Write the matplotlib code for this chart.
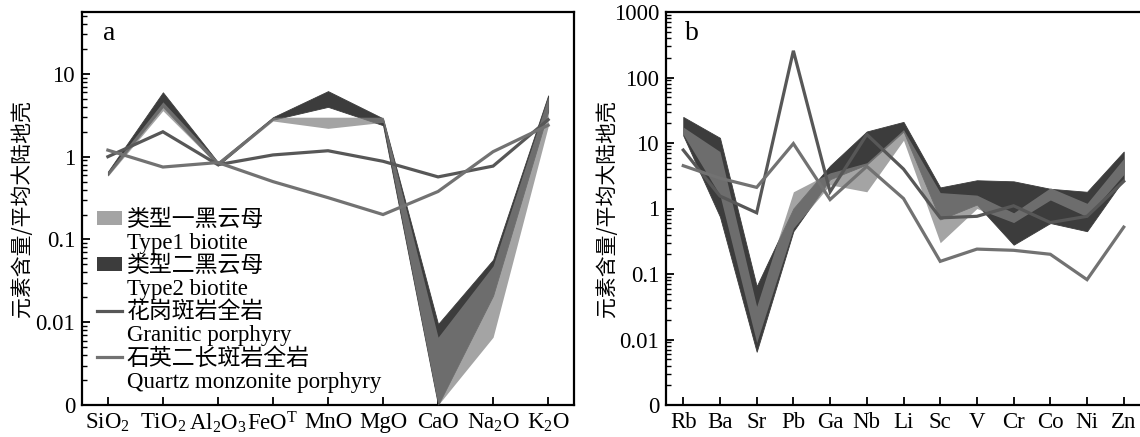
import matplotlib
matplotlib.use("Agg")
import matplotlib.pyplot as plt
from matplotlib.patches import Patch
from matplotlib.lines import Line2D
from matplotlib.ticker import LogLocator, NullFormatter

plt.rcParams['font.family'] = ['Liberation Serif', 'Noto Sans CJK SC']
plt.rcParams['mathtext.fontset'] = 'custom'
plt.rcParams['mathtext.rm'] = 'Liberation Serif'
plt.rcParams['mathtext.it'] = 'Liberation Serif:italic'
plt.rcParams['mathtext.bf'] = 'Liberation Serif:bold'

# ---- (a) major oxides, normalised to average upper continental crust ----
oxides = ['SiO$_2$', 'TiO$_2$', 'Al$_2$O$_3$', 'FeO$^{\\mathrm{T}}$', 'MnO',
          'MgO', 'CaO', 'Na$_2$O', 'K$_2$O']
type1_a_low = [0.58, 3.6, 0.78, 2.7, 2.2, 2.6, 0.001, 0.0066, 2.3]
type1_a_high = [0.66, 4.6, 0.88, 3.0, 3.0, 3.0, 0.0066, 0.048, 5.3]
type2_a_low = [0.60, 4.0, 0.78, 2.8, 4.0, 2.4, 0.001, 0.021, 3.5]
type2_a_high = [0.66, 6.0, 0.86, 3.0, 6.2, 2.9, 0.0095, 0.057, 5.5]
granitic_a = [1.0, 2.0, 0.80, 1.05, 1.18, 0.88, 0.57, 0.77, 2.8]
quartz_mz_a = [1.2, 0.75, 0.85, 0.50, 0.32, 0.20, 0.38, 1.15, 2.4]

# ---- (b) trace elements, normalised to average upper continental crust ----
elements = ['Rb', 'Ba', 'Sr', 'Pb', 'Ga', 'Nb', 'Li', 'Sc', 'V', 'Cr', 'Co', 'Ni', 'Zn']
type1_b_low = [13.5, 1.6, 0.009, 0.5, 2.3, 1.8, 11, 0.30, 1.0, 0.61, 1.35, 0.75, 3.3]
type1_b_high = [17.5, 7.4, 0.032, 1.8, 3.5, 5.0, 16, 1.75, 1.6, 0.86, 2.07, 1.2, 5.8]
type2_b_low = [13, 0.75, 0.0065, 0.45, 2.8, 4.7, 15, 0.68, 1.15, 0.28, 0.6, 0.45, 2.8]
type2_b_high = [25, 12, 0.065, 1.0, 4.5, 15, 21, 2.1, 2.7, 2.6, 2.0, 1.8, 7.4]
granitic_b = [7.8, 1.55, 0.86, 256, 1.8, 13.5, 4.0, 0.72, 0.76, 1.1, 0.61, 0.76, 2.6]
quartz_mz_b = [4.5, 2.9, 2.1, 9.8, 1.37, 4.4, 1.42, 0.156, 0.24, 0.23, 0.20, 0.082, 0.52]

legend_labels = ['类型一黑云母', 'Type1 biotite', '类型二黑云母', 'Type2 biotite',
                 '花岗斑岩全岩', 'Granitic porphyry', '石英二长斑岩全岩',
                 'Quartz monzonite porphyry']
ylabel = '元素含量/平均大陆地壳'

C_TYPE2 = '#3c3c3c'
C_TYPE1 = '#818181'
A_TYPE1 = 0.72
C_GRAN = '#575757'
C_QMZ = '#727272'
LW = 2.3

fig = plt.figure(figsize=(11.4, 4.37), dpi=100)
axa = fig.add_axes([82 / 1140, 32 / 437, 492 / 1140, 393 / 437])
axb = fig.add_axes([666 / 1140, 32 / 437, 475 / 1140, 393 / 437])


def draw_panel(ax, names, t1lo, t1hi, t2lo, t2hi, gran, qmz, ylim, ticks, ticklabels, letter):
    x = list(range(len(names)))
    ax.set_yscale('log')
    ax.fill_between(x, t2lo, t2hi, color=C_TYPE2, lw=0.6, zorder=2)
    ax.fill_between(x, t1lo, t1hi, color=C_TYPE1, alpha=A_TYPE1, lw=0, zorder=3)
    ax.plot(x, gran, color=C_GRAN, lw=LW, zorder=4, solid_joinstyle='miter')
    ax.plot(x, qmz, color=C_QMZ, lw=LW, zorder=4, solid_joinstyle='miter')
    ax.set_xlim(-0.47, len(names) - 1 + 0.47)
    ax.set_ylim(*ylim)
    ax.set_xticks(x)
    ax.set_xticklabels(names, fontsize=16.5)
    ax.set_yticks(ticks)
    ax.set_yticklabels(ticklabels, fontsize=16.5)
    ax.yaxis.set_minor_locator(LogLocator(base=10, subs=range(2, 10), numticks=50))
    ax.yaxis.set_minor_formatter(NullFormatter())
    ax.tick_params(axis='both', which='major', direction='in', length=6, width=1.3, pad=5,
                   colors='black')
    ax.tick_params(axis='y', which='minor', direction='in', length=3.5, width=1.0)
    ax.tick_params(axis='x', which='minor', bottom=False)
    for s in ax.spines.values():
        s.set_linewidth(1.6)
    ax.set_ylabel(ylabel, family=['Noto Sans CJK SC'], fontsize=15)
    ax.yaxis.set_label_coords(-0.1, 0.5)
    ax.text(0.055, 0.945, letter, transform=ax.transAxes, fontsize=20,
            ha='center', va='center')


draw_panel(axa, oxides, type1_a_low, type1_a_high, type2_a_low, type2_a_high,
           granitic_a, quartz_mz_a, (0.001, 56),
           [0.001, 0.01, 0.1, 1, 10], ['0', '0.01', '0.1', '1', '10'], 'a')
draw_panel(axb, elements, type1_b_low, type1_b_high, type2_b_low, type2_b_high,
           granitic_b, quartz_mz_b, (0.001, 1000),
           [0.001, 0.01, 0.1, 1, 10, 100, 1000],
           ['0', '0.01', '0.1', '1', '10', '100', '1000'], 'b')
axb.spines['right'].set_visible(False)

blank = Line2D([], [], color='none')
handles = [Patch(facecolor=C_TYPE1, alpha=A_TYPE1, edgecolor='none'), blank,
           Patch(facecolor=C_TYPE2, edgecolor='none'), blank,
           Line2D([], [], color=C_GRAN, lw=LW), blank,
           Line2D([], [], color=C_QMZ, lw=LW), blank]
axa.legend(handles, legend_labels, loc='upper left', bbox_to_anchor=(0.03, 0.497),
           frameon=False, prop={'family': ['Liberation Serif', 'Noto Sans CJK SC'], 'size': 16.5},
           handlelength=1.1, handleheight=0.6, handletextpad=0.2, labelspacing=0.08,
           borderpad=0, borderaxespad=0)

fig.savefig('out.png', dpi=100)
